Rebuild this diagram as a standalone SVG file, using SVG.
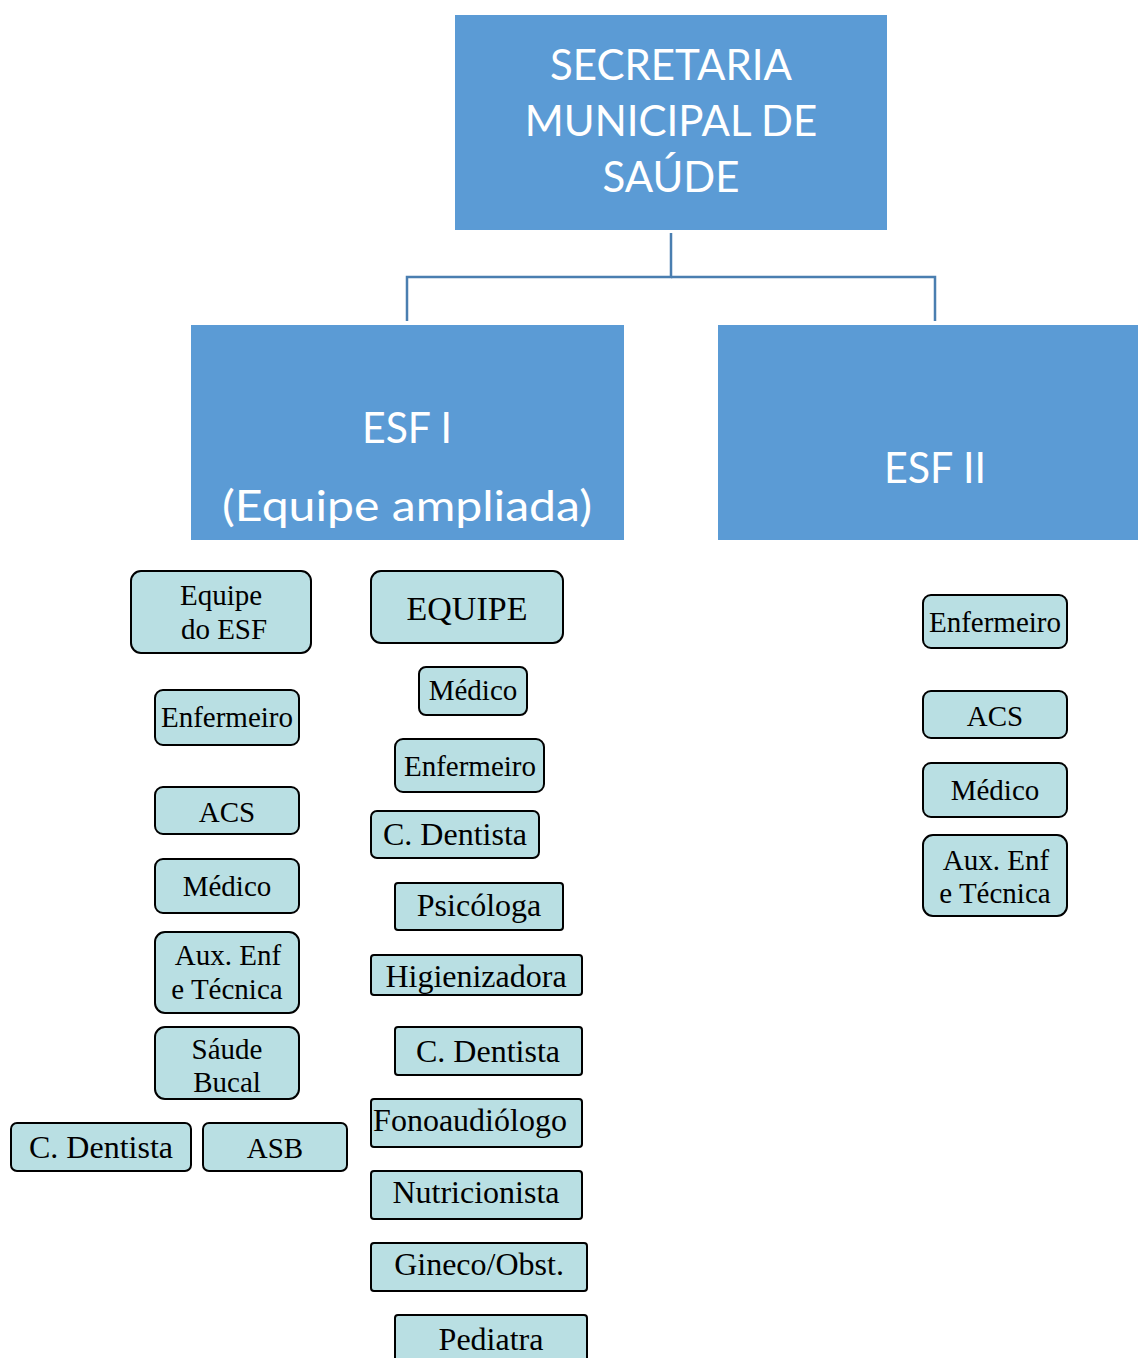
<svg xmlns="http://www.w3.org/2000/svg" width="1138" height="1358" viewBox="0 0 1138 1358">
<style>
.big{fill:#5b9bd5}
.bt{font-family:Lato,"Open Sans",sans-serif;font-size:42px;fill:#ffffff;text-anchor:middle}
.b{fill:#b9dfe3;stroke:#000;stroke-width:2}
.t{font-family:"Liberation Serif","Times New Roman",serif;font-size:29px;fill:#000;text-anchor:middle}
.t2{font-size:32px}
.t3{font-size:34px}
.conn{fill:none;stroke:#4a7eb0;stroke-width:2.5}
</style>
<rect width="1138" height="1358" fill="#ffffff"/>
<g id="connectors">
<polyline class="conn" points="671,233 671,277 407,277 407,321"/>
<polyline class="conn" points="671,277 935,277 935,321"/>
</g>
<g id="secretaria">
<rect class="big" x="455" y="15" width="432" height="215"/>
<text class="bt" x="671" y="80">SECRETARIA</text>
<text class="bt" x="671" y="136">MUNICIPAL DE</text>
<text class="bt" x="671" y="192">SAÚDE</text>
</g>
<g id="esf1">
<rect class="big" x="191" y="325" width="433" height="215"/>
<text class="bt" x="407" y="443" textLength="90" lengthAdjust="spacingAndGlyphs">ESF I</text>
<text class="bt" x="407" y="521" textLength="370" lengthAdjust="spacingAndGlyphs">(Equipe ampliada)</text>
</g>
<g id="esf2">
<rect class="big" x="718" y="325" width="420" height="215"/>
<text class="bt" x="935" y="483" textLength="102" lengthAdjust="spacingAndGlyphs">ESF II</text>
</g>
<g id="l-equipe"><rect class="b" x="131" y="571" width="180" height="82" rx="10"/><text class="t" x="221" y="605">Equipe</text><text class="t" x="224" y="639">do ESF</text></g>
<g id="l-enfermeiro"><rect class="b" x="155" y="690" width="144" height="55" rx="8"/><text class="t" x="227" y="727">Enfermeiro</text></g>
<g id="l-acs"><rect class="b" x="155" y="787" width="144" height="47" rx="8"/><text class="t" x="227" y="822">ACS</text></g>
<g id="l-medico"><rect class="b" x="155" y="859" width="144" height="54" rx="8"/><text class="t" x="227" y="896">Médico</text></g>
<g id="l-aux"><rect class="b" x="155" y="932" width="144" height="81" rx="10"/><text class="t" x="228" y="965">Aux. Enf</text><text class="t" x="227" y="999">e Técnica</text></g>
<g id="l-saude"><rect class="b" x="155" y="1027" width="144" height="72" rx="10"/><text class="t" x="227" y="1059">Sáude</text><text class="t" x="227" y="1092">Bucal</text></g>
<g id="l-dentista"><rect class="b" x="11" y="1123" width="180" height="48" rx="6"/><text class="t t2" x="101" y="1158">C. Dentista</text></g>
<g id="l-asb"><rect class="b" x="203" y="1123" width="144" height="48" rx="6"/><text class="t" x="275" y="1158">ASB</text></g>
<g id="m-equipe"><rect class="b" x="371" y="571" width="192" height="72" rx="10"/><text class="t t3" x="467" y="620">EQUIPE</text></g>
<g id="m-medico"><rect class="b" x="419" y="667" width="108" height="48" rx="7"/><text class="t" x="473" y="700">Médico</text></g>
<g id="m-enfermeiro"><rect class="b" x="395" y="739" width="149" height="53" rx="8"/><text class="t" x="470" y="776">Enfermeiro</text></g>
<g id="m-dentista1"><rect class="b" x="371" y="811" width="168" height="47" rx="6"/><text class="t t2" x="455" y="845">C. Dentista</text></g>
<g id="m-psicologa"><rect class="b" x="395" y="883" width="168" height="47" rx="3"/><text class="t t2" x="479" y="916">Psicóloga</text></g>
<g id="m-higienizadora"><rect class="b" x="371" y="955" width="211" height="40" rx="3"/><text class="t t2" x="476" y="987">Higienizadora</text></g>
<g id="m-dentista2"><rect class="b" x="395" y="1027" width="187" height="48" rx="3"/><text class="t t2" x="488" y="1062">C. Dentista</text></g>
<g id="m-fono"><rect class="b" x="371" y="1099" width="211" height="48" rx="3"/><text class="t t2" x="470" y="1131">Fonoaudiólogo</text></g>
<g id="m-nutri"><rect class="b" x="371" y="1171" width="211" height="48" rx="3"/><text class="t t2" x="476" y="1203">Nutricionista</text></g>
<g id="m-gineco"><rect class="b" x="371" y="1243" width="216" height="48" rx="3"/><text class="t t2" x="479" y="1275">Gineco/Obst.</text></g>
<g id="m-pediatra"><rect class="b" x="395" y="1315" width="192" height="60" rx="3"/><text class="t t2" x="491" y="1350">Pediatra</text></g>
<g id="r-enfermeiro"><rect class="b" x="923" y="595" width="144" height="53" rx="8"/><text class="t" x="995" y="632">Enfermeiro</text></g>
<g id="r-acs"><rect class="b" x="923" y="691" width="144" height="47" rx="8"/><text class="t" x="995" y="726">ACS</text></g>
<g id="r-medico"><rect class="b" x="923" y="763" width="144" height="54" rx="8"/><text class="t" x="995" y="800">Médico</text></g>
<g id="r-aux"><rect class="b" x="923" y="835" width="144" height="81" rx="10"/><text class="t" x="996" y="870">Aux. Enf</text><text class="t" x="995" y="903">e Técnica</text></g>
</svg>
